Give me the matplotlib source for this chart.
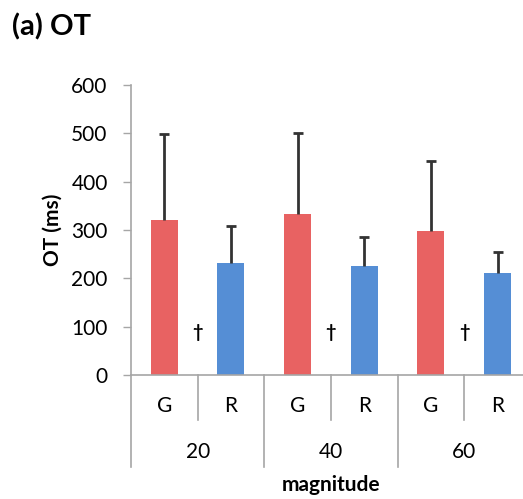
import matplotlib.pyplot as plt
import numpy as np

plt.rcParams['font.family'] = ['Lato', 'DejaVu Sans']

magnitudes = ["20", "40", "60"]
groups = ["G", "R"]
means_G = [321, 333, 298]
means_R = [232, 226, 211]
sd_G = [178, 167, 144]
sd_R = [77, 60, 44]
sig_mark = ["\u2020", "\u2020", "\u2020"]

red = "#E86262"
blue = "#558ED5"
gray = "#A6A6A6"
errc = "#333333"

fig = plt.figure(figsize=(5.23, 4.99), dpi=100)
ax = fig.add_axes([131/523, 124/499, 400/523, 290/499])

xG = np.arange(len(magnitudes)) * 2
xR = xG + 1
w = 0.405
ax.bar(xG, means_G, w, color=red, zorder=2)
ax.bar(xR, means_R, w, color=blue, zorder=2)

# upper error bars only
for x, m, s in [(xG, means_G, sd_G), (xR, means_R, sd_R)]:
    top = np.array(m) + np.array(s)
    ax.vlines(x, m, top, color=errc, lw=2, zorder=3)
    ax.plot(x, top, ls="none", marker="_", ms=7, mew=2, color=errc, zorder=3)

# dagger between G and R
for i, m in enumerate(sig_mark):
    ax.text(xG[i] + 0.5, 87, m, ha="center", va="center", fontsize=13, fontweight="bold")

ax.set_xlim(-0.5, 5.5)
ax.set_ylim(0, 600)
ax.set_yticks(range(0, 601, 100))
ax.tick_params(axis="y", length=5.8, width=1, color=gray, labelsize=15, pad=11)
ax.set_xticks([])
for s in ["top", "right"]:
    ax.spines[s].set_visible(False)
ax.spines["left"].set_color(gray)
ax.spines["bottom"].set_color(gray)
ax.spines["left"].set_linewidth(1.2)
ax.spines["bottom"].set_linewidth(1.2)

# two-level category axis
tr = ax.get_xaxis_transform()
for x in xG + 0.5:
    ax.plot([x, x], [0, -0.155], color=gray, lw=1.2, transform=tr, clip_on=False)
for x in list(xG - 0.5) + [5.5]:
    ax.plot([x, x], [0, -0.317], color=gray, lw=1.2, transform=tr, clip_on=False)
for i in range(len(magnitudes)):
    ax.text(xG[i], -0.107, groups[0], transform=tr, ha="center", va="center", fontsize=15)
    ax.text(xR[i], -0.107, groups[1], transform=tr, ha="center", va="center", fontsize=15)
    ax.text(xG[i] + 0.5, -0.266, magnitudes[i], transform=tr, ha="center", va="center", fontsize=15)
ax.text(2.5, -0.379, "magnitude", transform=tr, ha="center", va="center",
        fontsize=15, fontweight="bold")

ax.set_ylabel("OT (ms)", fontsize=15, fontweight="bold")
ax.yaxis.set_label_coords(-0.17, 0.5)
fig.text(12/523, 1 - 27/499, "(a) OT", fontsize=21, fontweight="bold", va="center", ha="left")

fig.savefig("out.png", dpi=100)
